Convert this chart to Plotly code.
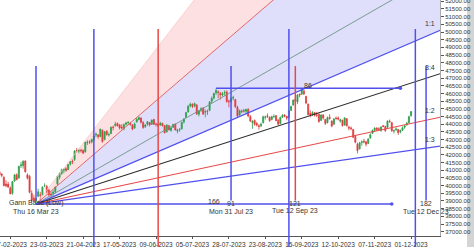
import pandas as pd
import plotly.graph_objects as go

# ---------------- data ----------------
first_day = "2023-02-20"
last_day = "2023-12-29"
holidays = ["2023-03-07", "2023-03-30", "2023-04-04", "2023-04-07", "2023-04-14",
            "2023-05-01", "2023-06-29", "2023-08-15", "2023-09-19", "2023-10-02",
            "2023-10-24", "2023-11-14", "2023-11-27", "2023-12-25"]
special_sessions = ["2023-11-12"]
base_date = "2023-03-16"

opens = [40900, 40750, 40550, 40100, 40100, 39850, 39500, 40300, 40700, 40500,
         41300, 41300, 41600, 40700, 40600, 39500, 39200,
         39000, 39300, 39400, 39400, 40000, 39950, 39700, 39450, 39500, 39600,
         40100, 40550, 40800, 41000, 41100, 41050, 41400, 41600, 41700, 42300,
         42250, 42300, 42300, 42200, 42800, 42850, 42850, 43000, 43300, 43300,
         43200, 43600, 43000, 43550, 43300, 43400, 43800, 43900, 44050, 43950,
         43800, 43700, 44000, 44100, 44050, 43950, 43750, 44150, 44300, 44400,
         44100, 43850, 44000, 44100, 44000, 44300, 44000, 44000, 43950, 44050,
         43900, 43500, 43900, 43600, 43800, 44000, 43550, 43650, 43700, 44150,
         44450, 44800, 45200, 45300, 45200, 45250, 44650, 44900, 45050, 44800,
         44850, 44900, 45500, 45700, 46050, 46100, 46000, 45900, 46050, 46100,
         45500, 45500, 45700, 45600, 45100, 44600, 44850, 44850, 44850, 44950,
         44500, 44100, 44250, 44050, 43900, 43900, 44100, 44450, 44550, 44450,
         44300, 44500, 44550, 44250, 44050, 44450, 44600, 44500, 44450, 44900,
         45250, 45600, 45450, 45950, 45950, 46150, 45800, 45300, 44700, 44600,
         44750, 44600, 44650, 44250, 44600, 44300, 44100, 44450, 44200, 44000,
         44400, 44400, 44200, 44250, 43950, 44350, 43800, 43750, 43650, 43200,
         42700, 42400, 42800, 42900, 42850, 42750, 43100, 43400, 43600, 43750,
         43700, 43600, 43900, 43850, 43800, 44200, 44100, 43550, 43650, 43650,
         43500, 43600, 43800, 43950, 44100, 44550]
highs = [40950, 40800, 40600, 40350, 40250, 39950, 40300, 40750, 40800, 41300,
         41550, 41650, 41650, 40800, 40700, 39700, 39400,
         39200, 39800, 39600, 39950, 40150, 40050, 39800, 39600, 39700, 39950,
         40650, 40850, 41100, 41150, 41200, 41400, 41600, 41700, 42300, 42450,
         42400, 42400, 42350, 42850, 42950, 42950, 43050, 43250, 43450, 43350,
         43700, 43650, 43550, 43600, 43450, 43850, 43900, 44150, 44100, 44000,
         44000, 44050, 44150, 44200, 44150, 44000, 44100, 44400, 44500, 44450,
         44200, 44000, 44200, 44150, 44300, 44350, 44100, 44050, 44150, 44100,
         43950, 44000, 43950, 43800, 44000, 44050, 43700, 43750, 44150, 44400,
         44800, 45250, 45400, 45350, 45400, 45300, 44900, 45100, 45100, 44950,
         44950, 45500, 45800, 46050, 46340, 46200, 46100, 46100, 46200, 46200,
         45600, 45750, 45850, 45650, 45200, 44950, 44950, 45000, 45000, 45050,
         44600, 44250, 44300, 44150, 44000, 44100, 44550, 44550, 44700, 44500,
         44550, 44650, 44600, 44350, 44500, 44650, 44650, 44550, 44900, 45200,
         45600, 45750, 45950, 46000, 46300, 46250, 45850, 45350, 44900, 44850,
         44800, 44800, 44700, 44650, 44650, 44350, 44500, 44650, 44250, 44400,
         44500, 44500, 44350, 44300, 44450, 44400, 43900, 43850, 43700, 43300,
         42800, 42850, 42950, 43050, 42900, 43100, 43400, 43650, 43800, 43800,
         43800, 43850, 43950, 43900, 44250, 44300, 44150, 43650, 43800, 43700,
         43650, 43850, 43950, 44150, 44550, 44850]
lows = [40550, 40550, 39950, 39900, 39850, 39450, 39400, 40250, 40350, 40450,
        41150, 41100, 40850, 40400, 39500, 38900, 38900,
        38800, 39250, 39000, 39350, 39900, 39500, 39300, 39200, 39250, 39500,
        40050, 40400, 40700, 40800, 40900, 41000, 41300, 41400, 41600, 42150,
        42100, 42150, 42050, 42150, 42650, 42700, 42750, 42900, 43150, 43050,
        43150, 42800, 42950, 43250, 43200, 43350, 43600, 43850, 43850, 43650,
        43650, 43600, 43900, 43950, 43900, 43600, 43700, 44100, 44250, 44050,
        43700, 43750, 43900, 43850, 43950, 43950, 43850, 43800, 43900, 43850,
        43400, 43450, 43600, 43500, 43750, 43600, 43400, 43500, 43650, 44050,
        44400, 44750, 45100, 45050, 45100, 44600, 44500, 44800, 44600, 44450,
        44600, 44850, 45350, 45600, 45900, 45700, 45600, 45800, 45850, 45400,
        45100, 45400, 45550, 45050, 44400, 44550, 44700, 44750, 44650, 44450,
        44150, 43700, 43900, 43850, 43650, 43800, 44050, 44300, 44400, 44150,
        44250, 44400, 44200, 43950, 44000, 44400, 44450, 44250, 44400, 44850,
        45200, 45400, 45300, 45750, 45900, 45900, 45300, 44600, 44450, 44550,
        44500, 44450, 44100, 44200, 44300, 43950, 44050, 44300, 43800, 43950,
        44300, 44250, 44100, 43850, 43900, 43850, 43600, 43600, 43100, 42750,
        42100, 42350, 42600, 42750, 42550, 42700, 43050, 43350, 43500, 43550,
        43600, 43500, 43800, 43500, 43750, 44100, 43500, 43400, 43550, 43300,
        43400, 43550, 43700, 43900, 44050, 44500]
closes = [40700, 40670, 40000, 39990, 39910, 39460, 40270, 40700, 40390, 41250,
          41350, 41580, 40900, 40485, 39560, 39050, 39000,
          39130, 39600, 39360, 39900, 40000, 39630, 39400, 39430, 39570, 39910,
          40600, 40800, 41040, 41040, 41000, 41370, 41560, 41560, 42260, 42270,
          42270, 42270, 42120, 42830, 42830, 42830, 43000, 43230, 43350, 43200,
          43680, 42870, 43500, 43330, 43330, 43800, 43790, 44000, 43900, 43750,
          43750, 43970, 44070, 44120, 44000, 43680, 44020, 44310, 44430, 44120,
          43790, 43940, 44160, 43950, 44270, 43990, 43990, 43900, 44070, 43900,
          43440, 43940, 43630, 43760, 43990, 43620, 43620, 43660, 44120, 44330,
          44750, 45160, 45300, 45150, 45340, 44670, 44860, 45000, 44660, 44810,
          44820, 45450, 45680, 46000, 46190, 46070, 45920, 46000, 46060, 45480,
          45470, 45650, 45730, 45150, 44540, 44880, 44840, 44880, 44960, 44540,
          44200, 44200, 44000, 43950, 43850, 44000, 44480, 44480, 44500, 44230,
          44490, 44500, 44230, 44000, 44430, 44580, 44530, 44400, 44880, 45150,
          45570, 45510, 45900, 45900, 46230, 45980, 45380, 44620, 44610, 44760,
          44580, 44590, 44170, 44590, 44400, 44050, 44430, 44360, 43880, 44330,
          44360, 44340, 44290, 43900, 44410, 43890, 43750, 43720, 43150, 42830,
          42280, 42780, 42850, 42850, 42700, 43020, 43320, 43600, 43740, 43660,
          43660, 43820, 43850, 43580, 44200, 44160, 43580, 43580, 43690, 43450,
          43590, 43770, 43880, 44060, 44480, 44820]

base_price = 38800          # Gann base (price)
unit = 60                   # price per bar for the 1x1 angle
fan_ratios = [(3, 1), (2, 1), (4, 3), (1, 1), (3, 4), (1, 2), (1, 3)]
fan_labels = ["1:1", "3:4", "1:2", "1:3"]
tall_cycles = [27, 57, 118, 177]            # bars from base
tall_colors = ["blue", "red", "blue", "blue"]
count_cycles = [0, 91, 121, 182]            # bars from base
count_colors = ["blue", "blue", "red", "blue"]
base_len = 166                              # bars
high_start = 84
high_len = 86
high_price = 46340
tick_step = 17

# ---------------- calendar ----------------
days = pd.bdate_range(first_day, last_day)
days = days[~days.isin(pd.to_datetime(holidays))]
days = days.union(pd.to_datetime(special_sessions))
cal = list(days)
b0 = cal.index(pd.Timestamp(base_date))
xs = [i - b0 for i in range(len(closes))]

XMIN, XMAX = -16.8, 188.5
YMIN, YMAX = 36720, 52085

BLUE = "#5050ee"
RED = "#e84848"
col = {"blue": BLUE, "red": RED}
FONT = "Liberation Sans, Arial, sans-serif"

fig = go.Figure()

def fan_y(r, b):
    return base_price + unit * r[0] / r[1] * b

shapes = []
FAR = 260
def poly(r1, r2, color):
    p = (f"M 0,{base_price} L {FAR},{fan_y(r1, FAR)} L {FAR},{fan_y(r2, FAR)} Z")
    return dict(type="path", path=p, xref="x", yref="y", fillcolor=color,
                line=dict(width=0), layer="below")
shapes.append(poly((2, 1), (3, 1), "#fde0e2"))
shapes.append(poly((1, 1), (2, 1), "#dfdffb"))

fan_style = {(3, 1): ("#f6c4c4", 0.7), (2, 1): ("#e06666", 1.0), (4, 3): ("#6f9486", 0.9),
             (1, 1): (BLUE, 1.3), (3, 4): ("#2a2a2a", 1.1), (1, 2): (RED, 1.1),
             (1, 3): (BLUE, 1.2)}
for r in fan_ratios:
    c, w = fan_style[r]
    fig.add_trace(go.Scatter(x=[0, FAR], y=[base_price, fan_y(r, FAR)], mode="lines",
                             line=dict(color=c, width=w), hoverinfo="skip", showlegend=False))

fig.add_trace(go.Candlestick(x=xs, open=opens, high=highs, low=lows, close=closes,
                             increasing=dict(line=dict(color="#2e9e4a", width=0.8), fillcolor="#2e9e4a"),
                             decreasing=dict(line=dict(color="#e03c3c", width=0.8), fillcolor="#e03c3c"),
                             whiskerwidth=0, showlegend=False))

fig.add_trace(go.Scatter(x=[0, base_len], y=[base_price, base_price], mode="lines",
                         line=dict(color=BLUE, width=1.6), hoverinfo="skip", showlegend=False))
fig.add_trace(go.Scatter(x=[high_start, high_start + high_len], y=[high_price, high_price],
                         mode="lines", line=dict(color=BLUE, width=1.6), hoverinfo="skip",
                         showlegend=False))
fig.add_trace(go.Scatter(x=[base_len, high_start + high_len], y=[base_price, high_price],
                         mode="markers", marker=dict(color=BLUE, size=3.5),
                         hoverinfo="skip", showlegend=False))

for b, c in zip(tall_cycles, tall_colors):
    shapes.append(dict(type="line", xref="x", yref="paper", x0=b, x1=b, y0=-0.06, y1=0.877,
                       line=dict(color=col[c], width=1.5)))
for b, c in zip(count_cycles, count_colors):
    shapes.append(dict(type="line", xref="x", yref="paper", x0=b, x1=b, y0=0.15, y1=0.72,
                       line=dict(color=col[c], width=1.5)))
shapes.append(dict(type="rect", xref="paper", yref="paper", x0=1.0614, x1=1.08, y0=-0.06,
                   y1=1.0, fillcolor="#d4d4d4", line=dict(width=0), layer="below"))

ann = []
tf = dict(family=FONT, size=7, color="#333333")
for lab, r in zip(fan_labels, [(1, 1), (3, 4), (1, 2), (1, 3)]):
    ann.append(dict(x=XMAX - 1.5, y=fan_y(r, XMAX), xref="x", yref="y", text=lab,
                    showarrow=False, xanchor="right", yanchor="bottom", yshift=1, font=tf))
for b in count_cycles:
    d = cal[b0 + b]
    ann.append(dict(x=b, y=base_price, xref="x", yref="y", text=d.strftime("%a %d %b %y"),
                    showarrow=False, yshift=-7, font=tf))
    txt = "Gann Base (Low)" if b == 0 else str(b)
    ann.append(dict(x=b, y=base_price, xref="x", yref="y", text=txt,
                    showarrow=False, yshift=1, font=tf))
ann.append(dict(x=base_len / 2, y=base_price, xref="x", yref="y", text=str(base_len),
                showarrow=False, yshift=3, font=tf))
ann.append(dict(x=high_start + high_len / 2, y=high_price, xref="x", yref="y",
                text=str(high_len), showarrow=False, yshift=3, font=tf))

tickvals = list(range(-12, int(XMAX) + 1, tick_step))
ticktext = [cal[b0 + t].strftime("%d-%m-%Y") for t in tickvals]

fig.update_layout(
    width=474, height=247,
    margin=dict(l=0, r=34, t=0, b=11),
    paper_bgcolor="white", plot_bgcolor="white",
    shapes=shapes, annotations=ann,
    xaxis=dict(range=[XMIN, XMAX], tickvals=tickvals, ticktext=ticktext, tickangle=0,
               automargin=False,
               showgrid=False, zeroline=False, showline=True, linecolor="#555555",
               linewidth=1, ticks="outside", ticklen=2, tickcolor="#555555",
               tickfont=dict(family=FONT, size=6.5, color="#333333"),
               ticklabeloverflow="allow", rangeslider=dict(visible=False)),
    yaxis=dict(range=[YMIN, YMAX], side="right", dtick=500, tick0=0, tickformat=".2f",
               automargin=False,
               showgrid=False, zeroline=False, showline=True, linecolor="#aaaaaa",
               ticks="outside", ticklen=3, tickcolor="#555555", ticklabeloverflow="allow",
               tickfont=dict(family=FONT, size=6, color="#333333")),
    font=dict(family=FONT, size=7),
)

fig.write_html("out.html")
